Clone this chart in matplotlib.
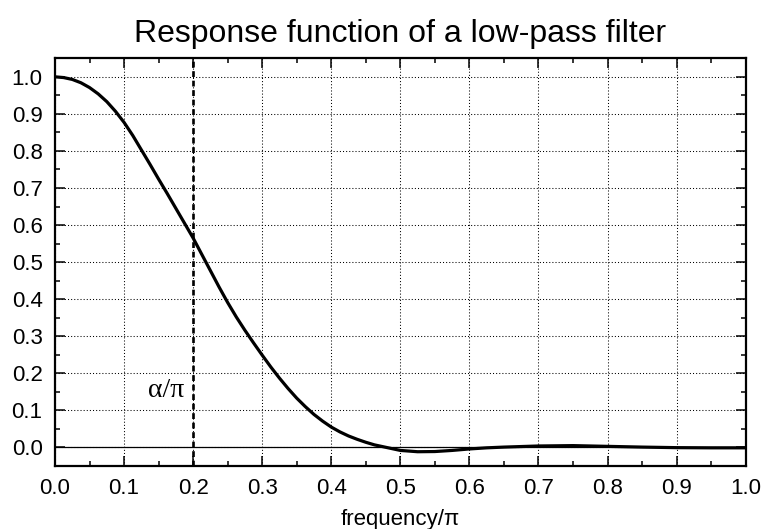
import numpy as np
import matplotlib
matplotlib.use("Agg")
import matplotlib.pyplot as plt
from matplotlib.ticker import MultipleLocator, FormatStrFormatter

# response
freq = [0.0, 0.0125, 0.025, 0.0375, 0.05, 0.0625, 0.075, 0.0875,
        0.1, 0.1125, 0.125, 0.1375, 0.15, 0.1625, 0.175, 0.1875,
        0.2, 0.2125, 0.225, 0.2375, 0.25, 0.2625, 0.275, 0.2875,
        0.3, 0.3125, 0.325, 0.3375, 0.35, 0.3625, 0.375, 0.3875,
        0.4, 0.4125, 0.425, 0.4375, 0.45, 0.4625, 0.475, 0.4875,
        0.5, 0.525, 0.55, 0.575, 0.6, 0.625, 0.65, 0.7, 0.75,
        0.8, 0.85, 0.9, 0.95, 1.0]
response = [1.0, 0.998, 0.993, 0.984, 0.971, 0.954, 0.933, 0.907,
            0.877, 0.842, 0.803, 0.764, 0.724, 0.685, 0.645, 0.605,
            0.565, 0.521, 0.477, 0.433, 0.391, 0.352, 0.316, 0.282,
            0.249, 0.217, 0.187, 0.159, 0.133, 0.110, 0.089, 0.071,
            0.055, 0.042, 0.031, 0.022, 0.014, 0.007, 0.002, -0.003,
            -0.008, -0.0115, -0.011, -0.008, -0.004, -0.001, 0.001, 0.004, 0.005,
            0.003, 0.001, -0.0005, -0.001, -0.001]
cutoff = 0.2

plt.rcParams['font.family'] = ['Liberation Sans', 'DejaVu Sans']

fig = plt.figure(figsize=(7.63, 5.29), dpi=100)
ax = fig.add_axes([0.0721, 0.1191, 0.9052, 0.7707])

ax.grid(True, which='major', color='black', linestyle=(0, (1, 2)), linewidth=0.75)
ax.axhline(0, color='black', linewidth=0.9, zorder=2)
ax.axvline(cutoff, color='black', linewidth=1.9, linestyle=(0, (2.2, 1.4)), zorder=3)
ax.plot(freq, response, color='black', linewidth=2.3, zorder=4)

ax.text(cutoff - 0.013, 0.137, r'α/π', family=['Liberation Serif', 'DejaVu Serif'],
        fontsize=20, ha='right', va='baseline')

ax.set_xlim(0, 1)
ax.set_ylim(-0.05, 1.05)
ax.xaxis.set_major_locator(MultipleLocator(0.1))
ax.xaxis.set_minor_locator(MultipleLocator(0.05))
ax.yaxis.set_major_locator(MultipleLocator(0.1))
ax.yaxis.set_minor_locator(MultipleLocator(0.05))
ax.xaxis.set_major_formatter(FormatStrFormatter('%.1f'))
ax.yaxis.set_major_formatter(FormatStrFormatter('%.1f'))
ax.tick_params(which='both', direction='in', top=True, right=True,
               labelsize=16, width=1.1)
ax.tick_params(which='major', length=7, pad=9)
ax.tick_params(which='minor', length=3.5)
for s in ax.spines.values():
    s.set_linewidth(1.6)
ax.set_axisbelow(True)

ax.set_xlabel('frequency/π', fontsize=16)
ax.xaxis.label.set_va('baseline')
ax.xaxis.set_label_coords(0.5, -0.1447)
ax.set_title('Response function of a low-pass filter', fontsize=23, pad=12)

fig.savefig('out.png', dpi=100)
